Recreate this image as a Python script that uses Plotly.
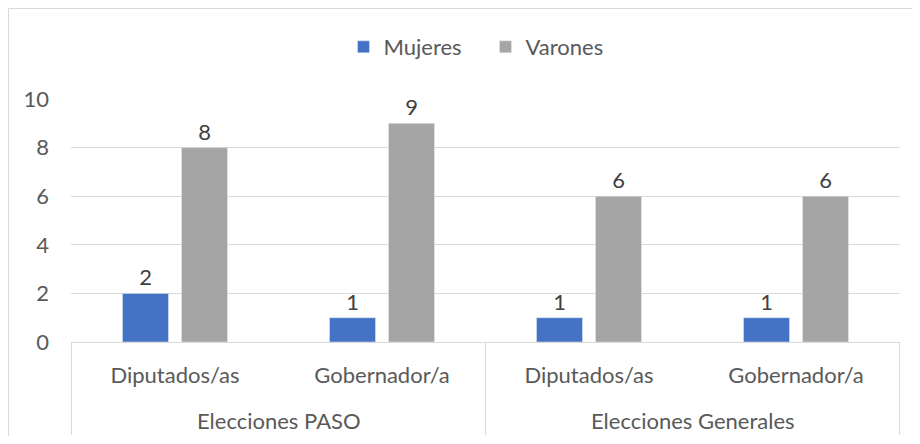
import plotly.graph_objects as go

# data
elecciones = ['Elecciones PASO', 'Elecciones PASO', 'Elecciones Generales', 'Elecciones Generales']
cargos = ['Diputados/as', 'Gobernador/a', 'Diputados/as', 'Gobernador/a']
mujeres = [2, 1, 1, 1]
varones = [8, 9, 6, 6]

# colours
blue = '#4472C4'
grey = '#A5A5A5'
text_grey = '#595959'
grid_grey = '#D9D9D9'
fs = 22

# unique category keys, shown with the cargo name only
keys = [e + ' | ' + c for e, c in zip(elecciones, cargos)]

# page body has an 8px margin, so the figure is a bit smaller than the window
W, H = 904, 428
L, R, T, B = 63, 12, 91, 94
pw, ph = W - L - R, H - T - B

fig = go.Figure()

fig.add_trace(go.Bar(
    x=keys, y=mujeres, name='Mujeres',
    marker_color=blue,
    text=mujeres, textposition='outside',
    textfont=dict(color='#404040', size=fs),
    cliponaxis=False
))

fig.add_trace(go.Bar(
    x=keys, y=varones, name='Varones',
    marker_color=grey,
    text=varones, textposition='outside',
    textfont=dict(color='#404040', size=fs),
    cliponaxis=False
))

fig.update_layout(
    width=W,
    height=H,
    plot_bgcolor='white',
    paper_bgcolor='white',
    font=dict(family='Lato', color=text_grey, size=fs),
    barmode='group',
    bargap=0.43,
    bargroupgap=0.22,
    margin=dict(l=L, r=R, t=T, b=B, autoexpand=False),
    xaxis=dict(
        type='category',
        tickvals=keys,
        ticktext=cargos,
        showgrid=False,
        showline=True,
        linecolor=grid_grey,
        linewidth=1,
        ticks='',
        ticklabelstandoff=14,
        tickfont=dict(color=text_grey, size=fs),
    ),
    yaxis=dict(
        range=[0, 10],
        dtick=2,
        showgrid=True,
        gridcolor=grid_grey,
        zeroline=False,
        showline=False,
        tickfont=dict(color=text_grey, size=fs),
        ticklabelstandoff=21,
    ),
    legend=dict(
        orientation='h',
        x=0.5, xanchor='center',
        yref='container', y=1 - 39 / H, yanchor='middle',
        font=dict(color=text_grey, size=fs),
        entrywidthmode='pixels', entrywidth=97,
    ),
    showlegend=True,
)

# group labels and dividers under the axis
groups = list(dict.fromkeys(elecciones))
for g in groups:
    idx = [i for i, e in enumerate(elecciones) if e == g]
    fig.add_annotation(x=sum(idx) / len(idx), xref='x', y=-78 / ph, yref='paper',
                       text=g, showarrow=False, yanchor='middle',
                       font=dict(color=text_grey, size=fs))
bounds = [-0.5] + [i + 0.5 for i in range(len(elecciones) - 1) if elecciones[i] != elecciones[i + 1]] + [len(elecciones) - 0.5]
for b in bounds:
    fig.add_shape(type='line', xref='x', yref='paper', x0=b, x1=b, y0=0, y1=-93 / ph,
                  line=dict(color=grid_grey, width=1))

# chart area border
fig.add_shape(type='rect', xref='paper', yref='paper',
              x0=-(L - 0.5) / pw, x1=1.1, y0=-0.5, y1=1 + (T - 0.5) / ph,
              line=dict(color=grid_grey, width=1))

fig.write_html("out.html")
